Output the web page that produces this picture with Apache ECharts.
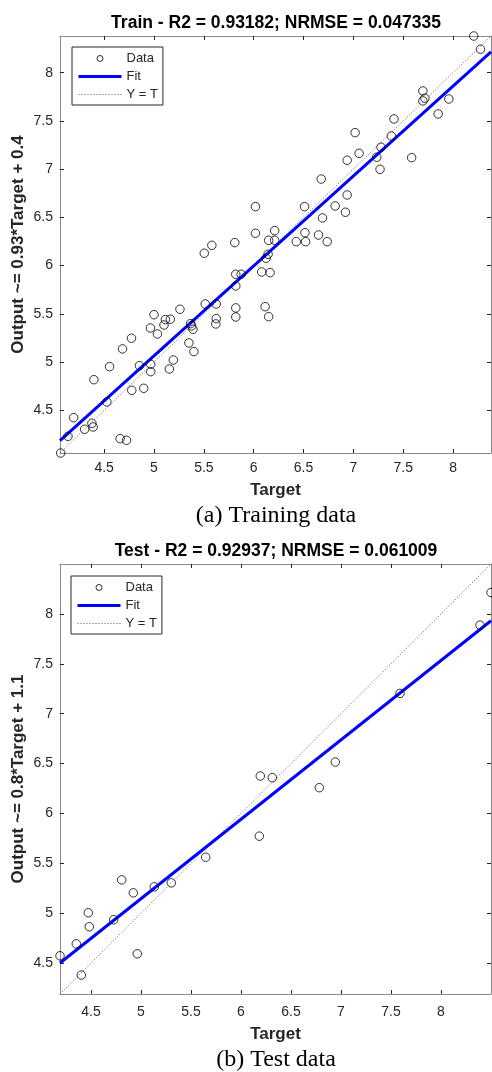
<!DOCTYPE html>
<html>
<head>
<meta charset="utf-8">
<script src="https://cdn.jsdelivr.net/npm/echarts@6/dist/echarts.min.js"></script>
<style>
  html, body { margin: 0; padding: 0; background: #fff; }
  #chart { width: 492px; height: 1072px; }
</style>
</head>
<body>
<div id="chart"></div>
<script>
// Training set: target vs. model output
const trainTarget = [
  8.207, 8.274, 7.697, 7.717, 7.697, 7.957, 7.850, 7.407, 7.380, 7.017,
  7.277, 7.057, 6.937, 7.234, 7.584, 7.267, 6.677, 6.510, 6.017, 6.937,
  6.817, 6.920, 6.690, 6.017, 6.514, 6.650, 6.210, 6.150, 6.210, 6.427,
  6.520, 6.737, 5.810, 5.580, 5.504, 6.144, 6.124, 6.080, 6.164, 5.820,
  5.874, 5.820, 5.514, 5.624, 5.260, 5.820, 6.114, 5.820, 6.150, 5.000,
  5.624, 5.620, 5.114, 5.164, 5.100, 5.367, 5.377, 5.390, 4.964, 5.034,
  4.774, 5.350, 4.684, 5.400, 4.554, 4.854, 4.967, 4.967, 5.194, 5.154,
  4.397, 4.777, 4.897, 4.527, 4.194, 4.377, 4.390, 4.304, 4.137, 4.660,
  4.724, 4.064
];
const trainOutput = [
  8.380, 8.243, 7.810, 7.735, 7.707, 7.727, 7.572, 7.520, 7.344, 7.378,
  7.227, 7.164, 7.092, 7.123, 7.119, 6.998, 6.897, 6.611, 6.611, 6.732,
  6.618, 6.553, 6.494, 6.335, 6.341, 6.317, 6.362, 6.262, 6.262, 6.248,
  6.248, 6.248, 6.238, 6.210, 6.128, 6.117, 6.076, 5.934, 5.927, 5.910,
  5.910, 5.789, 5.602, 5.602, 5.547, 5.561, 5.574, 5.467, 5.470, 5.491,
  5.450, 5.395, 5.440, 5.444, 5.384, 5.398, 5.374, 5.340, 5.353, 5.291,
  5.247, 5.198, 5.136, 5.108, 4.952, 4.962, 4.977, 4.900, 5.021, 4.928,
  4.817, 4.707, 4.728, 4.586, 4.423, 4.365, 4.327, 4.303, 4.230, 4.206,
  4.189, 4.057
];

// Test set: target vs. model output
const testTarget = [
  8.500, 8.390, 7.590, 6.943, 6.783, 6.193, 6.313, 6.183, 5.647, 4.807,
  5.133, 5.303, 4.923, 4.473, 4.483, 4.727, 4.353, 4.190, 4.963, 4.403
];
const testOutput = [
  8.214, 7.887, 7.203, 6.515, 6.258, 6.375, 6.358, 5.772, 5.561, 5.334,
  5.264, 5.304, 5.204, 5.004, 4.864, 4.934, 4.693, 4.573, 4.593, 4.380
];

// Linear fit coefficients [slope, intercept]
const trainFit = [0.932, 0.405];
const testFit = [0.796, 1.165];

const tickValues = [4.5, 5, 5.5, 6, 6.5, 7, 7.5, 8];

const trainTitle = 'Train - R2 = 0.93182; NRMSE = 0.047335';
const testTitle = 'Test - R2 = 0.92937; NRMSE = 0.061009';
const trainYName = 'Output ~= 0.93*Target + 0.4';
const testYName = 'Output ~= 0.8*Target + 1.1';
const xName = 'Target';
const trainCaption = '(a) Training data';
const testCaption = '(b) Test data';

const SANS = '"Liberation Sans", Arial, Helvetica, sans-serif';
const SERIF = '"Liberation Serif", "Times New Roman", serif';
const AXIS_COLOR = '#8a8a8a';
const LABEL_COLOR = '#262626';
const IDENTITY_COLOR = '#5a5a5a';

const zip = (a, b) => a.map((v, i) => [v, b[i]]);

// Both axes span the full range of targets and outputs
function limits(t, o) {
  const all = t.concat(o);
  return [Math.min.apply(null, all), Math.max.apply(null, all)];
}

const trainLim = limits(trainTarget, trainOutput);
const testLim = limits(testTarget, testOutput);

function fitLine(lim, fit) {
  return lim.map(v => [v, fit[0] * v + fit[1]]);
}
function identityLine(lim) {
  return lim.map(v => [v, v]);
}

// Main axis (with labels) plus the opposite side of the box (ticks only)
function axisPair(kind, gridIndex, lim, named, labelMargin, nameGap) {
  const main = {
    type: 'value',
    gridIndex: gridIndex,
    min: lim[0],
    max: lim[1],
    position: kind === 'x' ? 'bottom' : 'left',
    axisLine: { show: true, onZero: false, lineStyle: { color: AXIS_COLOR, width: 1 } },
    axisTick: { show: true, inside: true, length: 4, customValues: tickValues,
      lineStyle: { color: LABEL_COLOR, width: 1 } },
    axisLabel: { show: true, customValues: tickValues, color: LABEL_COLOR,
      fontFamily: SANS, fontSize: 14, margin: labelMargin,
      formatter: v => String(v) },
    splitLine: { show: false },
    name: named,
    nameLocation: 'middle',
    nameGap: nameGap,
    nameMoveOverlap: false,
    nameRotate: kind === 'x' ? 0 : 90,
    nameTextStyle: { fontFamily: SANS, fontWeight: 'bold', fontSize: 17, color: LABEL_COLOR }
  };
  const opp = {
    type: 'value',
    gridIndex: gridIndex,
    min: lim[0],
    max: lim[1],
    position: kind === 'x' ? 'top' : 'right',
    axisLine: { show: true, onZero: false, lineStyle: { color: AXIS_COLOR, width: 1 } },
    axisTick: { show: true, inside: true, length: 4, customValues: tickValues,
      lineStyle: { color: LABEL_COLOR, width: 1 } },
    axisLabel: { show: false },
    splitLine: { show: false }
  };
  return [main, opp];
}

const xAxes = [].concat(
  axisPair('x', 0, trainLim, xName, 8, 29),
  axisPair('x', 1, testLim, xName, 11, 32)
);
const yAxes = [].concat(
  axisPair('y', 0, trainLim, trainYName, 7, 33),
  axisPair('y', 1, testLim, testYName, 7, 33)
);

function seriesFor(gridIdx, t, o, lim, fit) {
  const xi = gridIdx * 2, yi = gridIdx * 2;
  return [
    {
      name: 'Y = T', type: 'line', xAxisIndex: xi, yAxisIndex: yi,
      data: identityLine(lim), symbol: 'none', silent: true, z: 1,
      lineStyle: { color: IDENTITY_COLOR, width: 1, type: [1, 2] }
    },
    {
      name: 'Fit', type: 'line', xAxisIndex: xi, yAxisIndex: yi,
      data: fitLine(lim, fit), symbol: 'none', silent: true, z: 2,
      lineStyle: { color: '#0000ff', width: 3 }
    },
    {
      name: 'Data', type: 'scatter', xAxisIndex: xi, yAxisIndex: yi,
      data: zip(t, o), symbol: 'circle', symbolSize: 8.5, clip: false, z: 3,
      itemStyle: { color: 'rgba(0,0,0,0)', borderColor: '#000', borderWidth: 1 }
    }
  ];
}

function legendFor(left, top) {
  return {
    orient: 'vertical',
    left: left, top: top,
    padding: [5, 5, 4, 5],
    itemWidth: 43, itemHeight: 6, itemGap: 5,
    borderColor: '#262626', borderWidth: 1, backgroundColor: '#fff',
    selectedMode: false,
    textStyle: { fontFamily: SANS, fontSize: 13, lineHeight: 13, color: LABEL_COLOR },
    data: [
      { name: 'Data', icon: 'circle',
        itemStyle: { color: 'rgba(0,0,0,0)', borderColor: '#000', borderWidth: 1 } },
      { name: 'Fit', itemStyle: { opacity: 0 },
        lineStyle: { color: '#0000ff', width: 3 } },
      { name: 'Y = T', itemStyle: { opacity: 0 },
        lineStyle: { color: IDENTITY_COLOR, width: 1, type: [1, 2] } }
    ]
  };
}

function headText(text, x, y, font) {
  return {
    type: 'text', x: x, y: y, silent: true,
    style: { text: text, font: font, fill: '#000', textAlign: 'center', textVerticalAlign: 'middle' }
  };
}

const chart = echarts.init(document.getElementById('chart'), null, { renderer: 'canvas' });
chart.setOption({
  animation: false,
  backgroundColor: '#fff',
  grid: [
    { left: 60, top: 36, width: 431, height: 417, containLabel: false, outerBoundsMode: 'none' },
    { left: 60, top: 564, width: 431, height: 430, containLabel: false, outerBoundsMode: 'none' }
  ],
  xAxis: xAxes,
  yAxis: yAxes,
  legend: [legendFor(72, 47), legendFor(71, 576)],
  series: [].concat(
    seriesFor(0, trainTarget, trainOutput, trainLim, trainFit),
    seriesFor(1, testTarget, testOutput, testLim, testFit)
  ),
  graphic: [
    headText(trainTitle, 276, 23, 'bold 17.5px ' + SANS),
    headText(testTitle, 276, 551, 'bold 17.5px ' + SANS),
    headText(trainCaption, 276, 516, '24px ' + SERIF),
    headText(testCaption, 276, 1060, '24px ' + SERIF)
  ]
});
</script>
</body>
</html>
